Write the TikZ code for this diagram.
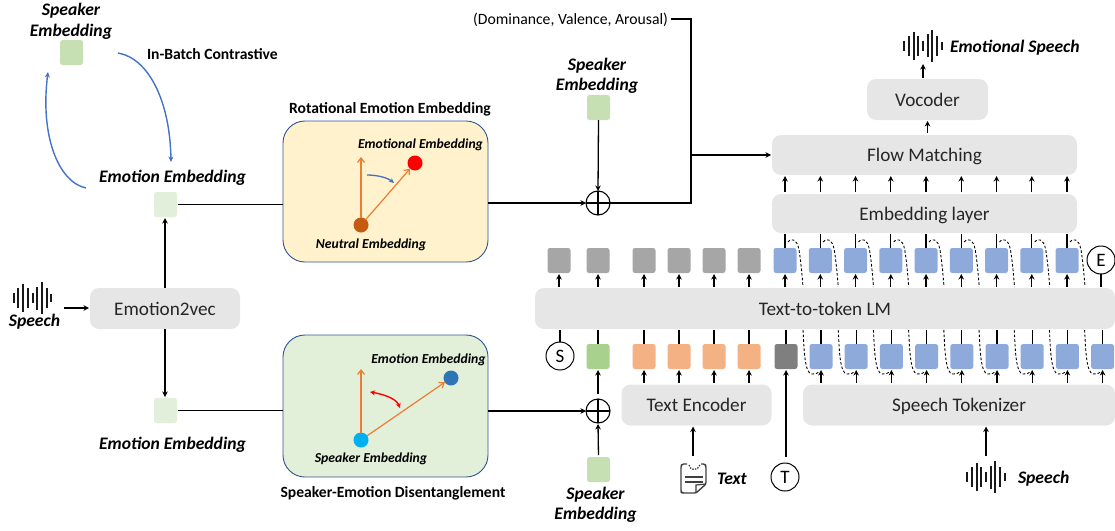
\documentclass[tikz,border=0pt]{standalone}
\usepackage{fontspec}
\setmainfont{Carlito}
\usetikzlibrary{arrows.meta,calc,positioning}
\definecolor{boxgrey}{HTML}{E6E6E6}
\definecolor{spk}{HTML}{C6E0B4}
\definecolor{emo}{HTML}{E2EFDA}
\definecolor{bluesq}{HTML}{8EAADB}
\definecolor{orangesq}{HTML}{F4B183}
\definecolor{greensq}{HTML}{A9D18E}
\definecolor{greysq}{HTML}{A6A6A6}
\definecolor{darksq}{HTML}{7F7F7F}
\definecolor{curveblue}{HTML}{4472C4}
\definecolor{vec}{HTML}{ED7D31}
\definecolor{frameblue}{HTML}{2F5597}
\definecolor{panelY}{HTML}{FFF2CC}
\definecolor{panelG}{HTML}{E2F0D9}
\tikzset{
  x=1pt,y=-1pt,
  every node/.style={inner sep=0pt,outer sep=0pt},
  module/.style={fill=boxgrey,rounded corners=9pt,font=\fontsize{19.2}{22}\selectfont,text=black!85,text height=13pt,text depth=0pt},
  sq/.style={minimum width=23pt,minimum height=25pt,rounded corners=2.5pt},
  panel/.style={draw=frameblue,line width=0.9pt,rounded corners=22pt},
  lab/.style={font=\fontsize{17.6}{20.5}\selectfont\bfseries\itshape,align=center},
  smalllab/.style={font=\fontsize{13.7}{15}\selectfont\bfseries\itshape},
  title/.style={font=\fontsize{15.6}{17}\selectfont\bfseries},
  circ/.style={circle,draw=black,line width=1pt,minimum size=28pt,font=\fontsize{19}{18}\selectfont},
  plusnode/.style={circle,draw=black,line width=1.1pt,minimum size=24pt},
  dot/.style={circle,minimum size=15pt},
  arr/.style={line width=1.3pt,-{Stealth[length=5.5pt,width=5.5pt]}},
  ln/.style={line width=1.3pt},
  vecarr/.style={draw=vec,line width=1.2pt,-{Straight Barb[length=4.5pt,width=7pt]}},
  dashc/.style={line width=0.9pt,dash pattern=on 2.6pt off 2pt},
  bluecurve/.style={draw=curveblue,line width=1.4pt,-{Stealth[length=5.5pt,width=5pt]}},
  waveform/.pic={
    \foreach \dx/\h in {-18.8/5,-14.1/10,-9.4/14,-4.7/10,0/5,4.7/11.5,9.4/16,14.1/10,18.8/4}
      \draw[line width=2pt,black!90] (\dx,-\h) -- (\dx,\h);
  }
}
\begin{document}
\begin{tikzpicture}
\useasboundingbox (0,0) rectangle (1115,530);
% modules
\node[module,minimum width=150pt,minimum height=41pt] (e2v) at (165,308.5) {Emotion2vec};
\node[module,minimum width=580pt,minimum height=41pt] (lm) at (825,308.5) {Text-to-token LM};
\node[module,minimum width=150pt,minimum height=41pt] (tenc) at (696.5,405) {Text Encoder};
\node[module,minimum width=312pt,minimum height=41pt] (stok) at (959,405) {Speech Tokenizer};
\node[module,minimum width=305pt,minimum height=39pt] (embed) at (924.5,213.5) {Embedding layer};
\node[module,minimum width=305pt,minimum height=40pt] (flow) at (924.5,155) {Flow Matching};
\node[module,minimum width=121pt,minimum height=41pt] (voc) at (927.5,99.5) {Vocoder};
% left squares
\node[sq,fill=spk] (spkA) at (71.5,52.5) {};
\node[lab] (spkAl) at (71,21.5) {Speaker\\Embedding};
\node[title,anchor=west] (ibc) at (147,54) {In-Batch Contrastive};
\node[sq,fill=emo] (emoU) at (165.5,204.5) {};
\node[lab] (emoUl) at (172.5,177.5) {Emotion Embedding};
\node[sq,fill=emo] (emoD) at (165.5,410.5) {};
\node[lab] (emoDl) at (172.5,444.5) {Emotion Embedding};
\pic at (32.5,298) {waveform};
\node[lab] (sp1) at (34.5,322) {Speech};
\coordinate (sp1out) at (64,308);
% blue curves
\coordinate (cA) at (118,53);
\coordinate (cB) at (171,162);
\coordinate (cC) at (86,188);
\coordinate (cD) at (48,72);
\draw[bluecurve] (cA) .. controls (148,58) and (170,100) .. (cB);
\draw[bluecurve] (cC) .. controls (58,182) and (40,135) .. (cD);
% panels
\node[panel,fill=panelY,minimum width=205pt,minimum height=141pt] (rot) at (385.5,191.5) {};
\node[title] (rotT) at (390,109) {Rotational Emotion Embedding};
\node[panel,fill=panelG,minimum width=205pt,minimum height=142pt] (dis) at (385.5,406) {};
\node[title] (disT) at (393,493) {Speaker-Emotion Disentanglement};
% rotational contents
\node[dot,fill={rgb,255:red,197;green,90;blue,17}] (neu) at (361,225) {};
\node[dot,fill=red] (emored) at (415,163) {};
\coordinate (rotup) at (361,157);
\draw[vecarr] (neu) -- (rotup);
\draw[vecarr] (neu) -- (emored);
\node[smalllab] (emolab) at (420.5,145) {Emotional Embedding};
\node[smalllab] (neulab) at (371,244.5) {Neutral Embedding};
\coordinate (rA) at (367,175);
\coordinate (rB) at (394,183);
\draw[draw=curveblue,line width=1.3pt,-{Stealth[length=5pt,width=4.5pt]}] (rA) .. controls (378,175) and (388,178) .. (rB);
% disentangle contents
\node[dot,fill={rgb,255:red,0;green,176;blue,240}] (spkdot) at (361,440) {};
\node[dot,fill={rgb,255:red,46;green,117;blue,182}] (emodot) at (451,378) {};
\coordinate (disup) at (361,369);
\draw[vecarr] (spkdot) -- (disup);
\draw[vecarr] (spkdot) -- (emodot);
\node[smalllab] (emolab2) at (428.5,360) {Emotion Embedding};
\node[smalllab] (spklab2) at (371,459) {Speaker Embedding};
\coordinate (dA) at (370,392);
\coordinate (dB) at (400,408);
\draw[draw=red,line width=1.4pt,{Stealth[length=5pt,width=5pt]}-{Stealth[length=5pt,width=5pt]}] (dA) .. controls (382,394) and (396,398) .. (dB);
% plus nodes
\node[plusnode] (p1) at (598,203) {};
\draw[line width=1.1pt] (p1.north) -- (p1.south) (p1.west) -- (p1.east);
\node[plusnode] (p2) at (598,411) {};
\draw[line width=1.1pt] (p2.north) -- (p2.south) (p2.west) -- (p2.east);
\node[sq,fill=spk] (spkM) at (598.5,107.5) {};
\node[lab] (spkMl) at (597,76) {Speaker\\Embedding};
\node[sq,fill=spk] (spkB) at (598.5,469.5) {};
\node[lab] (spkBl) at (595.5,505) {Speaker\\Embedding};
% DVA
\node[font=\fontsize{15.7}{18}\selectfont,anchor=east] (dva) at (668,20) {(Dominance, Valence, Arousal)};
\coordinate (dvaC) at (691,155);
% token rows
\foreach \n/\x in {1/559,2/598,3/644,4/679,5/714,6/749}
  \node[sq,fill=greysq] (g\n) at (\x,260.5) {};
\foreach \n/\x in {3/644,4/679,5/714,6/749}
  \node[sq,fill=orangesq] (o\n) at (\x,356.5) {};
\node[circ] (S) at (560,356) {S};
\node[sq,fill=greensq] (gr) at (598,356.5) {};
\node[sq,fill=darksq] (dk) at (786,356.5) {};
\node[circ] (E) at (1101,260) {E};
\node[circ] (T) at (785,477) {T};
\foreach \k in {1,...,9}{
  \pgfmathsetmacro{\xt}{785+35.25*(\k-1)}
  \pgfmathsetmacro{\xb}{821+35.2*(\k-1)}
  \node[sq,fill=bluesq] (tb\k) at (\xt,260.5) {};
  \node[sq,fill=bluesq] (bb\k) at (\xb,356.5) {};
}
% arrows through rows
\foreach \n in {1,...,6}
  \draw[arr,shorten <=1pt,shorten >=1pt] (g\n.south |- lm.north) -- (g\n.south);
\foreach \k in {1,...,9}{
  \draw[arr,shorten <=1pt,shorten >=1pt] (tb\k.south |- lm.north) -- (tb\k.south);
  \draw[ln,shorten >=1pt] (tb\k.north) -- (tb\k.north |- embed.south);
  \draw[arr,shorten <=2pt,shorten >=1pt] (tb\k.north |- embed.north) -- (tb\k.north |- flow.south);
  \draw[ln,shorten >=1pt] (bb\k.north) -- (bb\k.north |- lm.south);
  \draw[arr,shorten <=2pt,shorten >=1pt] (bb\k.south |- stok.north) -- (bb\k.south);
  \draw[dashc] ($(tb\k.north)+(3,-6)$) .. controls ($(tb\k.north)+(5,-10)$) and ($(tb\k.north)+(12,-10)$) .. ($(tb\k.north)+(14,2)$)
     .. controls ($(tb\k.north)+(16,14)$) and ($(tb\k.north)+(17,27)$) .. ($(tb\k.north)+(18,39)$);
  \draw[dashc] ($(bb\k.north)+(-18,-14)$) .. controls ($(bb\k.north)+(-17,1)$) and ($(bb\k.north)+(-17,30)$) .. ($(bb\k.north)+(-9,30)$)
     .. controls ($(bb\k.north)+(-6,30)$) and ($(bb\k.north)+(-4,30)$) .. ($(bb\k.north)+(-2,28)$);
}
\foreach \n in {3,...,6}{
  \draw[arr,shorten <=2pt,shorten >=1pt] (o\n.south |- tenc.north) -- (o\n.south);
  \draw[ln,shorten >=1pt] (o\n.north) -- (o\n.north |- lm.south);
}
\draw[ln,shorten >=1pt] (S.north) -- (S.north |- lm.south);
\draw[ln,shorten >=1pt] (E.south) -- (E.south |- lm.north);
\draw[ln,shorten >=1pt] (gr.north) -- (gr.north |- lm.south);
\draw[ln,shorten >=1pt] (dk.north) -- (dk.north |- lm.south);
\draw[arr,shorten <=5pt,shorten >=1pt] (p2.north) -- (gr.south);
\draw[arr,shorten <=6pt,shorten >=1pt] (T.north -| dk.south) -- (dk.south);
\draw[arr,shorten <=2pt,shorten >=1pt] (spkB.north) -- (p2.south);
% left connectors
\draw[arr,shorten >=1pt] (e2v.north) -- (e2v.north |- emoU.south);
\draw[arr,shorten >=1pt] (e2v.south) -- (e2v.south |- emoD.north);
\draw[arr,shorten >=1pt] (sp1out) -- (sp1out -| e2v.west);
\draw[ln] ([xshift=1pt]emoU.east) -- (emoU.east -| rot.west);
\draw[ln] ([xshift=1pt]emoD.east) -- (emoD.east -| dis.west);
\draw[arr] (p1.west -| rot.east) -- (p1.west);
\draw[arr] (p2.west -| dis.east) -- (p2.west);
\draw[arr] (spkM.south) -- (p1.north);
\draw[ln] (p1.east) -- (p1.east -| dvaC) -- (dvaC |- 0,19) -- (671,19);
\draw[arr,shorten >=1pt] (dvaC) -- (dvaC -| flow.west);
% top outputs
\node[font=\fontsize{17.6}{18}\selectfont\bfseries\itshape,anchor=west] (espl) at (950,47.5) {Emotional Speech};
\pic at (923,45.5) {waveform};
\coordinate (espc) at (923,64);
\draw[arr,shorten <=1pt] (espc |- voc.north) -- (espc);
\draw[arr,shorten <=2pt,shorten >=1pt] (flow.north -| voc.north) -- (voc.south);
% bottom inputs
\pic at (986,477) {waveform};
\node[lab,anchor=west] (sp2) at (1018,479) {Speech};
\coordinate (sp2c) at (986,456);
\draw[arr,shorten >=1pt] (sp2c) -- (sp2c |- stok.south);
\coordinate (txc) at (693,456);
\draw[arr,shorten >=1pt] (txc) -- (txc |- tenc.south);
\node[lab,anchor=west] (txl) at (717,479) {Text};
% document icon
\draw[black!75,line width=1.4pt,line join=round,rounded corners=1.5pt] (687,464) -- (682,464) -- (681,466) -- (681,492) -- (682,493) -- (696,493) -- (706,484) -- (706,466) -- (705,464) -- (701,464);
\draw[black!75,line width=1.2pt] (696,493) -- (696,485) -- (706,484);
\draw[black!75,line width=1.4pt] (685,477) -- (703,477) (685,482) -- (703,482);
\draw[black!75,line width=1.3pt,dash pattern=on 1.5pt off 1.2pt] (689,465) .. controls (690,471) and (698,471) .. (700,465);
\end{tikzpicture}
\end{document}
